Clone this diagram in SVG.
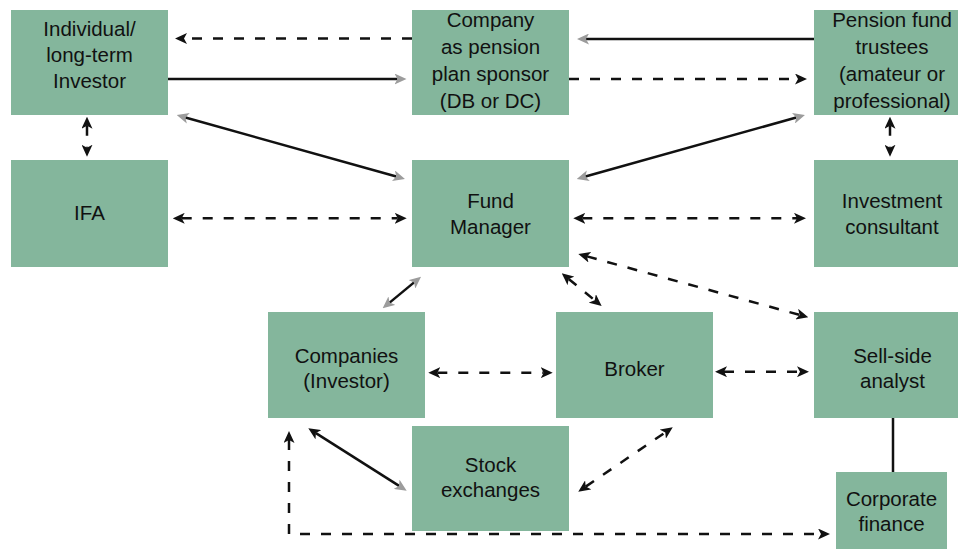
<svg xmlns="http://www.w3.org/2000/svg" width="958" height="549" viewBox="0 0 958 549">
<style>
.box{fill:#84b69c}
.t{font-family:"Liberation Sans",Arial,sans-serif;font-size:20.5px;fill:#111;text-anchor:middle}
.c{fill:none;stroke:#111;stroke-width:2.5}
.d{stroke-dasharray:10 11}
</style>
<defs>
<marker id="hb" markerUnits="userSpaceOnUse" markerWidth="12" markerHeight="11" refX="3" refY="5.5" orient="auto-start-reverse" viewBox="0 0 12 11"><path d="M0,0 L12,5.5 L0,11 L3,5.5 Z" fill="#111"/></marker>
<marker id="hg" markerUnits="userSpaceOnUse" markerWidth="12" markerHeight="11" refX="3" refY="5.5" orient="auto-start-reverse" viewBox="0 0 12 11"><path d="M0,0 L12,5.5 L0,11 L3,5.5 Z" fill="#9c9c9c"/></marker>
</defs>
<rect width="958" height="549" fill="#fff"/>
<g id="individual"><rect class="box" x="11" y="10" width="157" height="105"/><text class="t" x="89.5" y="36">Individual/</text><text class="t" x="89.5" y="62">long-term</text><text class="t" x="89.5" y="88">Investor</text></g>
<g id="company"><rect class="box" x="412" y="10" width="157" height="105"/><text class="t" x="490.5" y="27">Company</text><text class="t" x="490.5" y="54">as pension</text><text class="t" x="490.5" y="81">plan sponsor</text><text class="t" x="490.5" y="108">(DB or DC)</text></g>
<g id="trustees"><rect class="box" x="814" y="10" width="157" height="105"/><text class="t" x="892" y="27">Pension fund</text><text class="t" x="892" y="54">trustees</text><text class="t" x="892" y="81">(amateur or</text><text class="t" x="892" y="108">professional)</text></g>
<g id="ifa"><rect class="box" x="11" y="160" width="157" height="107"/><text class="t" x="89.5" y="220">IFA</text></g>
<g id="fundmanager"><rect class="box" x="412" y="160" width="157" height="107"/><text class="t" x="490.5" y="208">Fund</text><text class="t" x="490.5" y="234">Manager</text></g>
<g id="consultant"><rect class="box" x="814" y="160" width="157" height="107"/><text class="t" x="892" y="208">Investment</text><text class="t" x="892" y="234">consultant</text></g>
<g id="companies"><rect class="box" x="268" y="312" width="157" height="106"/><text class="t" x="346.5" y="363">Companies</text><text class="t" x="346.5" y="388">(Investor)</text></g>
<g id="broker"><rect class="box" x="556" y="312" width="157" height="106"/><text class="t" x="634.5" y="376">Broker</text></g>
<g id="sellside"><rect class="box" x="814" y="312" width="157" height="106"/><text class="t" x="892.5" y="363">Sell-side</text><text class="t" x="892.5" y="388">analyst</text></g>
<g id="stockexchanges"><rect class="box" x="412" y="426" width="157" height="105"/><text class="t" x="490.5" y="472">Stock</text><text class="t" x="490.5" y="497">exchanges</text></g>
<g id="corporatefinance"><rect class="box" x="836" y="472" width="111" height="77"/><text class="t" x="891.5" y="506">Corporate</text><text class="t" x="891.5" y="531">finance</text></g>
<g id="connectors">
<line class="c d" x1="412" y1="38.5" x2="184" y2="38.5" marker-end="url(#hb)"/>
<line class="c" x1="168" y1="79" x2="397.5" y2="79" marker-end="url(#hg)"/>
<line class="c" x1="814" y1="39" x2="586" y2="39" marker-end="url(#hg)"/>
<line class="c d" x1="569" y1="79" x2="798" y2="79" marker-end="url(#hb)"/>
<line class="c" x1="185.4" y1="117.5" x2="396.3" y2="176.5" marker-start="url(#hg)" marker-end="url(#hg)"/>
<line class="c" x1="585.4" y1="176.5" x2="796.3" y2="117.5" marker-start="url(#hg)" marker-end="url(#hg)"/>
<line class="c d" x1="181.7" y1="218.3" x2="397.7" y2="218.3" marker-start="url(#hb)" marker-end="url(#hb)"/>
<line class="c d" x1="582.3" y1="218.3" x2="797" y2="218.3" marker-start="url(#hb)" marker-end="url(#hb)"/>
<line class="c d" x1="87" y1="125.7" x2="87" y2="147.7" marker-start="url(#hb)" marker-end="url(#hb)"/>
<line class="c d" x1="890" y1="125.7" x2="890" y2="147.7" marker-start="url(#hb)" marker-end="url(#hb)"/>
<line class="c" x1="389.6" y1="302.6" x2="414.1" y2="282.4" marker-start="url(#hg)" marker-end="url(#hg)"/>
<line class="c d" x1="568.7" y1="279" x2="594.7" y2="300.3" marker-start="url(#hb)" marker-end="url(#hb)"/>
<line class="c d" x1="587" y1="256.4" x2="799.6" y2="314.9" marker-start="url(#hb)" marker-end="url(#hb)"/>
<line class="c d" x1="437.3" y1="372.7" x2="543.7" y2="372.7" marker-start="url(#hb)" marker-end="url(#hb)"/>
<line class="c d" x1="724" y1="371.7" x2="800" y2="371.7" marker-start="url(#hb)" marker-end="url(#hb)"/>
<line class="c" x1="315.9" y1="433.1" x2="399.1" y2="485.9" marker-start="url(#hb)" marker-end="url(#hg)"/>
<line class="c d" x1="585.7" y1="486.6" x2="665.3" y2="432.4" marker-start="url(#hb)" marker-end="url(#hb)"/>
<polyline class="c d" points="289,440 289,534 821,534" marker-start="url(#hb)" marker-end="url(#hb)"/>
<line class="c" x1="893" y1="418" x2="893" y2="472"/>
</g>
</svg>
